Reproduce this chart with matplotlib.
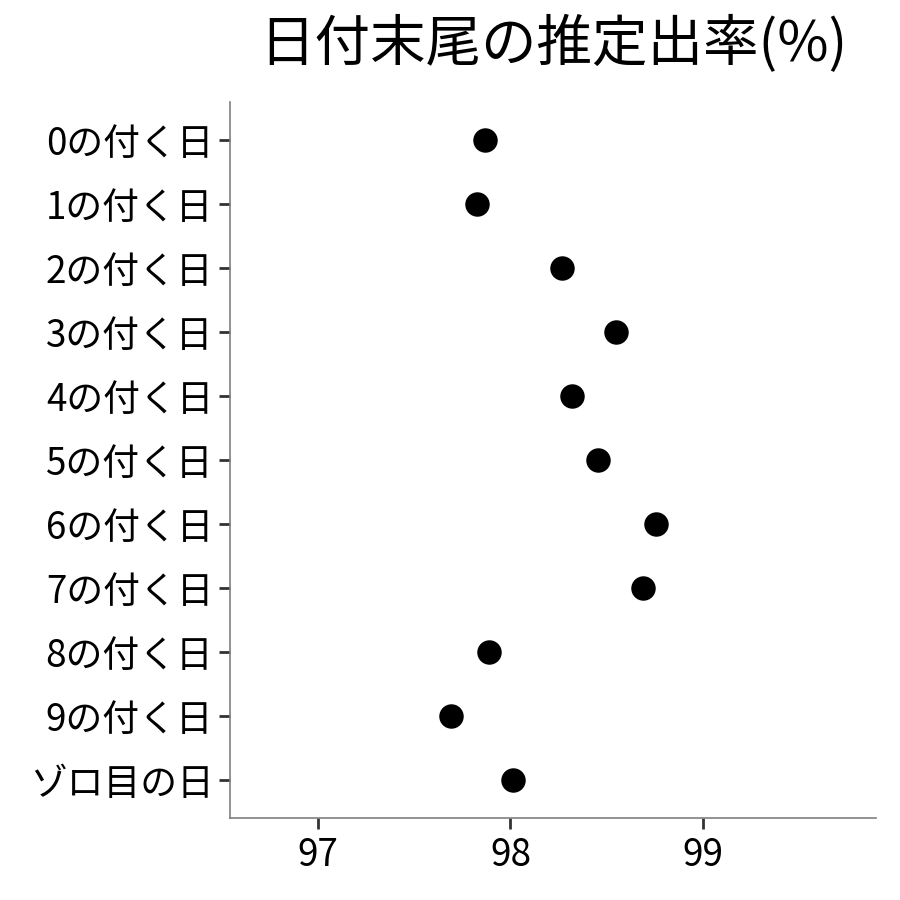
import matplotlib
matplotlib.use("Agg")
import matplotlib.pyplot as plt

plt.rcParams['font.family'] = ['Noto Sans CJK JP', 'DejaVu Sans']

categories = ["0の付く日", "1の付く日", "2の付く日", "3の付く日", "4の付く日",
              "5の付く日", "6の付く日", "7の付く日", "8の付く日", "9の付く日", "ゾロ目の日"]
values = [97.868, 97.826, 98.268, 98.548, 98.319, 98.455, 98.756, 98.688, 97.888, 97.691, 98.013]
xticks = [97, 98, 99]
title = "日付末尾の推定出率(%)"

fig = plt.figure(figsize=(9, 9), dpi=100)
ax = fig.add_axes([0.2556, 0.0911, 0.7177, 0.7956])

ypos = list(range(len(categories)))
ax.scatter(values, ypos, s=310, color='black', zorder=3, linewidths=0)

ax.set_ylim(len(categories) - 1 + 0.6, -0.6)
ax.set_xlim(96.543, 99.899)
ax.set_yticks(ypos)
ax.set_yticklabels(categories)
ax.set_xticks(xticks)
ax.set_xticklabels([str(t) for t in xticks])

for s in ['top', 'right']:
    ax.spines[s].set_visible(False)
for s in ['left', 'bottom']:
    ax.spines[s].set_color('#7f7f7f')
    ax.spines[s].set_linewidth(1.2)

ax.tick_params(axis='both', length=8, width=2, color='#333333', labelsize=26.5, labelcolor='black')
ax.tick_params(axis='y', pad=4)
ax.tick_params(axis='x', pad=5)

fig.text(0.6144, 0.95, title, ha='center', va='center', fontsize=40, color='black')

fig.savefig("out.png", dpi=100)
